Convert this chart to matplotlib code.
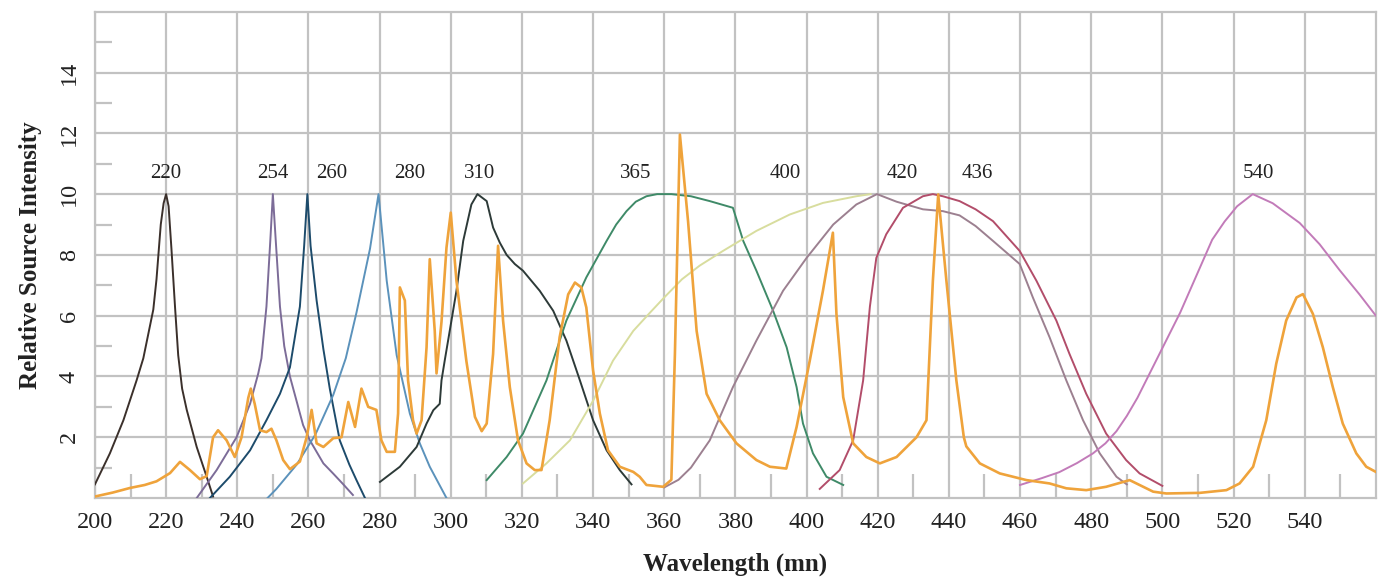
import matplotlib
matplotlib.use("Agg")
import matplotlib.pyplot as plt

plt.rcParams['font.family'] = ['Liberation Serif', 'DejaVu Serif']

# ---- data (wavelength nm, relative intensity) ----
x220 = [200, 204.2, 208, 211.7, 213.6, 216.4, 217.3, 218.5, 219.3, 220, 220.7, 221.5, 222.5, 223.4, 224.5, 225.8, 228.6, 231.4, 233.2]
y220 = [0.45, 1.47, 2.56, 3.87, 4.6, 6.2, 7.2, 9.0, 9.7, 10, 9.6, 8.2, 6.3, 4.7, 3.6, 2.9, 1.68, 0.7, 0.05]

x254 = [228.6, 234.2, 239.8, 243.6, 245.9, 246.8, 248.2, 249.3, 250, 250.8, 252, 253.2, 254.8, 258.5, 260.4, 264.2, 267, 269.8, 272.5]
y254 = [0, 0.92, 2.0, 3.1, 4.1, 4.6, 6.3, 8.5, 10, 8.5, 6.3, 5.0, 4.0, 2.4, 1.9, 1.14, 0.8, 0.45, 0.1]

x260 = [232.3, 237.9, 243.6, 248.2, 252, 254.8, 257.6, 258.8, 259.7, 260.6, 262.3, 264.2, 266, 268.8, 271.5, 273.5, 275.9]
y260 = [0, 0.7, 1.57, 2.56, 3.43, 4.3, 6.3, 8.3, 10, 8.3, 6.5, 4.9, 3.6, 1.9, 1.1, 0.59, 0]

x280 = [248.5, 251, 256.7, 262, 267, 270.5, 273.5, 277.3, 279.7, 281, 282, 284.8, 288.5, 291.3, 294.1, 298.8]
y280 = [0, 0.3, 1.1, 2.1, 3.4, 4.6, 6.1, 8.2, 10, 8.4, 7.15, 4.7, 2.78, 1.8, 1.03, 0]

x310 = [280.1, 285.7, 290.4, 293.2, 295.1, 296.9, 297.4, 298.3, 300.2, 301.6, 303.5, 305.8, 307.5, 310.1, 311.9, 313.8,
        315.7, 318, 320.3, 325, 328.8, 332.5, 336.3, 340, 343.8, 347.5, 350.8]
y310 = [0.53, 1.03, 1.68, 2.45, 2.89, 3.1, 3.87, 4.52, 5.84, 6.82, 8.46, 9.66, 10, 9.77, 8.9, 8.4,
        8.0, 7.7, 7.48, 6.82, 6.16, 5.18, 3.87, 2.56, 1.57, 0.92, 0.45]

x365 = [310.1, 315.7, 320.3, 326.9, 332.5, 338.1, 343.8, 346.5, 349.4, 352, 355, 358, 362, 367.5, 372.8, 379.3, 382.2,
        385.9, 390.6, 394.4, 397.2, 399, 401.8, 405.6, 410.3]
y365 = [0.59, 1.35, 2.12, 3.87, 5.84, 7.26, 8.46, 9.0, 9.44, 9.75, 9.93, 10, 10, 9.93, 9.77, 9.55, 8.46,
        7.48, 6.16, 4.96, 3.65, 2.45, 1.47, 0.7, 0.43]

x400 = [320.3, 326.9, 333.5, 340, 345.6, 351.3, 356, 360, 365, 370, 376.5, 385.9, 395.3, 404.6, 414, 418]
y400 = [0.48, 1.14, 1.9, 3.2, 4.52, 5.5, 6.1, 6.6, 7.2, 7.65, 8.13, 8.79, 9.33, 9.71, 9.93, 10]

x420 = [360, 364, 367.5, 372.8, 379.3, 385.9, 393.4, 400, 407.5, 414, 419.8, 425.3, 432.7, 438.3, 443, 447.5, 452.4, 459.9,
        463.6, 468.3, 473, 477.7, 482.4, 487.1, 490]
y420 = [0.35, 0.6, 1.0, 1.9, 3.65, 5.18, 6.82, 7.9, 9.0, 9.66, 10, 9.75, 9.5, 9.44, 9.3, 8.95, 8.46, 7.7,
        6.6, 5.29, 3.87, 2.56, 1.47, 0.7, 0.45]

x436 = [403.7, 409.3, 413.1, 415.9, 417.8, 419.6, 422.4, 427.1, 432.7, 435.5, 438.3, 443, 447.5, 452.4, 459.9, 464.6, 470.2,
        473.9, 478.6, 484.2, 489.8, 493.6, 500]
y436 = [0.3, 0.92, 1.9, 3.87, 6.3, 7.9, 8.68, 9.55, 9.93, 10, 9.93, 9.77, 9.5, 9.11, 8.13, 7.15, 5.84,
        4.74, 3.43, 2.12, 1.25, 0.81, 0.4]

x540 = [460, 466, 471, 476, 480.5, 484, 487.1, 490, 493, 496, 499, 502, 505, 508, 511, 514, 517.5, 521, 525.4, 531,
        538.6, 544.2, 549.8, 555.4, 560]
y540 = [0.43, 0.65, 0.85, 1.15, 1.47, 1.8, 2.2, 2.7, 3.3, 4.0, 4.7, 5.4, 6.1, 6.9, 7.7, 8.5, 9.1, 9.6, 10, 9.7,
        9.05, 8.35, 7.5, 6.7, 6.0]

# mercury lamp spectrum (orange)
x_hg = [200, 205, 209.8, 214, 217.3, 221.1, 223.9, 226.7, 229.5, 231.4, 233.2, 234.6, 237, 239.3, 241.2, 243.1, 243.8,
        244.9, 246.4, 248.2, 249.6, 251, 252.9, 254.8, 257.6, 259.5, 260.9, 262.3, 264.2, 267, 269.3, 271.2, 273.1,
        274.9, 276.8, 279.1, 280.5, 282, 284.3, 285.2, 285.7, 287.1, 288, 289.4, 290.4, 291.8, 293.2, 294.1, 295.5,
        296, 297.4, 298.8, 300, 301.6, 304.4, 306.8, 308.7, 310.1, 311.9, 313.3, 314.7, 316.6, 318.9, 321.3, 323.6,
        325.5, 327.8, 330.6, 333, 334.9, 336.7, 338.1, 340, 341.9, 344.2, 347.5, 351.3, 353.1, 355, 359.7, 362, 363,
        364.4, 366.7, 369.1, 371.9, 375.6, 380.3, 385.9, 389.7, 394.3, 397.2, 400.9, 404.6, 407.4, 408.4, 410.3,
        413.1, 416.8, 420.6, 425.3, 430.9, 433.7, 435.5, 437, 439.3, 442.1, 444.2, 444.9, 448.7, 454.3, 461.8, 468.3,
        473, 478.6, 484.2, 490.8, 493.6, 497.4, 501.1, 510.5, 518, 521.7, 525.5, 529.2, 532, 534.8, 537.7, 539.5,
        542.3, 545.1, 547.9, 550.7, 554.5, 557.3, 560]
y_hg = [0.05, 0.18, 0.33, 0.43, 0.55, 0.82, 1.19, 0.92, 0.62, 0.72, 2.0, 2.23, 1.9, 1.35, 2.0, 3.3, 3.6,
        3.1, 2.23, 2.17, 2.28, 1.9, 1.25, 0.95, 1.2, 2.0, 2.9, 1.8, 1.68, 1.97, 2.0, 3.16, 2.34,
        3.6, 3.0, 2.9, 1.9, 1.52, 1.52, 2.78, 6.93, 6.5, 3.87, 2.56, 2.12, 2.56, 4.96, 7.86, 5.5,
        4.1, 5.8, 8.24, 9.39, 7.15, 4.5, 2.67, 2.2, 2.45, 4.74, 8.3, 5.84, 3.65, 1.9, 1.14, 0.92,
        0.92, 2.56, 5.29, 6.7, 7.09, 6.93, 6.27, 4.2, 2.78, 1.57, 1.03, 0.86, 0.7, 0.43, 0.37, 0.6, 4.74,
        11.96, 9.1, 5.5, 3.43, 2.56, 1.8, 1.25, 1.03, 0.97, 2.34, 4.52, 6.82, 8.73, 6.05, 3.32,
        1.8, 1.35, 1.14, 1.35, 2.0, 2.56, 7.15, 9.99, 7.15, 3.87, 2.0, 1.7, 1.14, 0.81, 0.59, 0.48,
        0.32, 0.26, 0.37, 0.59, 0.43, 0.21, 0.15, 0.17, 0.26, 0.48, 1.03, 2.56, 4.42, 5.84, 6.6, 6.71,
        6.06, 4.96, 3.65, 2.45, 1.47, 1.03, 0.86]

peak_labels = ['220', '254', '260', '280', '310', '365', '400', '420', '436', '540']
label_x = [220, 250, 266.5, 288.5, 308, 352, 394, 427, 448, 527]

curves = [
    (x220, y220, '#3b302b'),
    (x254, y254, '#7c6c98'),
    (x260, y260, '#1d4b6b'),
    (x280, y280, '#5b92bb'),
    (x310, y310, '#2d3a38'),
    (x365, y365, '#3f8a68'),
    (x400, y400, '#d8dd9e'),
    (x420, y420, '#9c8090'),
    (x436, y436, '#b24d6a'),
    (x540, y540, '#c27bb9'),
]

fig = plt.figure(figsize=(13.8, 5.88), dpi=100)
ax = fig.add_axes([0.0688, 0.153, 0.9282, 0.827])

for xs, ys, c in curves:
    ax.plot(xs, ys, color=c, lw=1.4, zorder=3, solid_joinstyle='round')
ax.plot(x_hg, y_hg, color='#efa33b', lw=1.9, zorder=4, solid_joinstyle='round')

for lab, lx in zip(peak_labels, label_x):
    ax.text(lx, 10.35, lab, ha='center', va='bottom', fontsize=15, color='#222222')

ax.set_xlim(200, 560)
ax.set_ylim(0, 16)

grid_c = '#c2c2c2'
ax.set_xticks(range(200, 560, 20))
ax.set_xticks(range(210, 560, 20), minor=True)
ax.set_yticks(range(2, 16, 2))
ax.set_yticks(range(1, 16, 2), minor=True)
ax.set_yticklabels([str(v) for v in range(2, 16, 2)], rotation=90, va='center')
ax.grid(True, which='major', color=grid_c, lw=1.6, zorder=0)
ax.tick_params(which='major', length=0, labelsize=17.5, labelcolor='#222222')
ax.tick_params(axis='x', which='major', pad=10)
ax.tick_params(axis='y', which='major', pad=11)
ax.tick_params(axis='x', which='minor', direction='in', length=17, width=1.6, color=grid_c)
ax.tick_params(axis='y', which='minor', direction='in', length=12, width=1.6, color=grid_c)
for s in ax.spines.values():
    s.set_color(grid_c)
    s.set_linewidth(1.6)

ax.set_xlabel('Wavelength (mn)', fontsize=18, fontweight='bold', color='#222222', labelpad=14)
ax.set_ylabel('Relative Source Intensity', fontsize=18, fontweight='bold', color='#222222', labelpad=12)

fig.savefig('out.png', dpi=100)
